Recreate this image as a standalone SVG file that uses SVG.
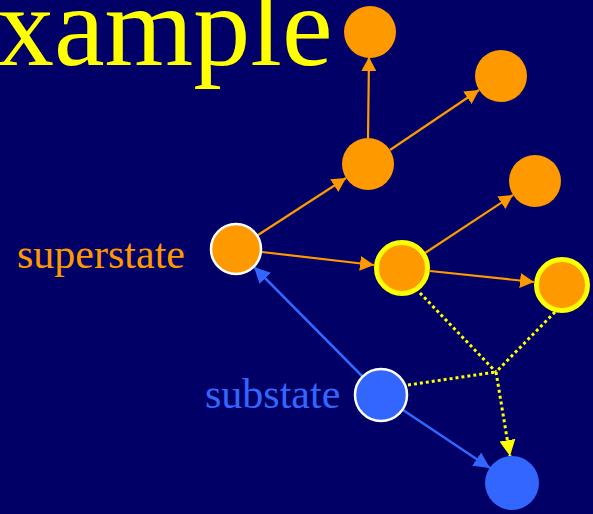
<svg xmlns="http://www.w3.org/2000/svg" width="593" height="514" viewBox="0 0 593 514">
<defs>
<style>
.or{fill:#FF9900}
.bl{fill:#3366FF}
.wr{stroke:#FFFFFF;stroke-width:2.5}
.yr{stroke:#FFFF00;stroke-width:5}
.eo{stroke:#FF9900;stroke-width:2.2;fill:none}
.eb{stroke:#3366FF;stroke-width:2.5;fill:none}
.ey{stroke:#FFFF00;stroke-width:3;stroke-dasharray:3 3;fill:none}
.t{font-family:"Liberation Serif","Times New Roman",serif}
</style>
<marker id="ao" markerUnits="userSpaceOnUse" markerWidth="16" markerHeight="16" refX="14" refY="8" orient="auto"><path d="M0,0.5 L14,8 L0,15.5 z" fill="#FF9900"/></marker>
<marker id="ab" markerUnits="userSpaceOnUse" markerWidth="18" markerHeight="18" refX="16" refY="9" orient="auto"><path d="M0,1 L16,9 L0,17 z" fill="#3366FF"/></marker>
<marker id="ay" markerUnits="userSpaceOnUse" markerWidth="18" markerHeight="18" refX="16" refY="9" orient="auto"><path d="M0,1 L16,9 L0,17 z" fill="#FFFF00"/></marker>
</defs>
<rect x="0" y="0" width="593" height="514" fill="#000066"/>
<text class="t" x="-3" y="65" font-size="114" fill="#FFFF00">xample</text>
<text class="t" x="17" y="268" font-size="42" fill="#FF9900">superstate</text>
<text class="t" x="205" y="408" font-size="42" fill="#3366FF">substate</text>
<g id="connectors">
<line class="eo" x1="368" y1="138" x2="369" y2="57" marker-end="url(#ao)"/>
<line class="eo" x1="390" y1="150" x2="479" y2="90" marker-end="url(#ao)"/>
<line class="eo" x1="258" y1="235" x2="346" y2="178" marker-end="url(#ao)"/>
<line class="eo" x1="262" y1="252" x2="374" y2="265" marker-end="url(#ao)"/>
<line class="eo" x1="425" y1="253" x2="513" y2="195" marker-end="url(#ao)"/>
<line class="eo" x1="430" y1="271" x2="534" y2="282" marker-end="url(#ao)"/>
<line class="eb" x1="362" y1="376" x2="254" y2="267" marker-end="url(#ab)"/>
<line class="eb" x1="403" y1="410" x2="490" y2="468" marker-end="url(#ab)"/>
<line class="ey" x1="420" y1="293" x2="496" y2="372"/>
<line class="ey" x1="555" y1="312" x2="496" y2="372"/>
<line class="ey" x1="408" y1="385" x2="496" y2="372"/>
<line class="ey" x1="496" y1="372" x2="510" y2="456" marker-end="url(#ay)"/>
</g>
<g id="n-top"><circle class="or" cx="370" cy="32" r="26"/></g>
<g id="n-topright"><circle class="or" cx="501" cy="76" r="26"/></g>
<g id="n-middle"><circle class="or" cx="368" cy="164" r="26"/></g>
<g id="n-right"><circle class="or" cx="535" cy="181" r="26"/></g>
<g id="n-superstate"><circle class="or wr" cx="236" cy="249" r="25"/></g>
<g id="n-yellow1"><circle class="or yr" cx="402" cy="268" r="25.5"/></g>
<g id="n-yellow2"><circle class="or yr" cx="562" cy="285" r="25.5"/></g>
<g id="n-substate"><circle class="bl wr" cx="381" cy="395" r="26"/></g>
<g id="n-bottom"><circle class="bl" cx="512" cy="483" r="27"/></g>
</svg>
